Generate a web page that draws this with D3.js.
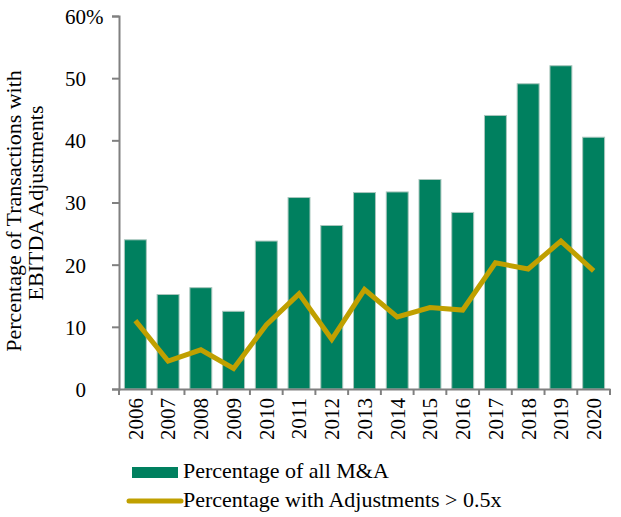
<!DOCTYPE html>
<html><head><meta charset="utf-8">
<script src="https://cdn.jsdelivr.net/npm/d3@7"></script>
<style>body{margin:0;background:#fff}svg{display:block}text{font-family:"Liberation Serif","Times New Roman",serif;fill:#000}</style>
</head><body><svg id="c" width="621" height="517"></svg>
<script>
const years = ["2006","2007","2008","2009","2010","2011","2012","2013","2014","2015","2016","2017","2018","2019","2020"];
const allMA = [24.0,15.2,16.3,12.5,23.8,30.8,26.3,31.6,31.7,33.7,28.4,44.0,49.1,52.0,40.5];
const adjusted = [11.0,4.5,6.3,3.3,10.3,15.3,8.0,16.0,11.6,13.1,12.7,20.3,19.3,23.8,19.0];
const yTicks = [0,10,20,30,40,50,60];
const seriesNames = ["Percentage of all M&A","Percentage with Adjustments > 0.5x"];
const yTitle = ["Percentage of Transactions with","EBITDA Adjustments"];

const svg = d3.select("#c");
const L=119, R=610, T=16, B=389;
const x = d3.scaleBand().domain(years).range([L,R]).paddingInner(0.33).paddingOuter(0.165);
const y = d3.scaleLinear().domain([0,60]).range([B,T]);
const barColor="#00805f", lineColor="#c0a000", axisColor="#808080";
const serif='"Liberation Serif","Times New Roman",serif';

// bars
svg.append("g").selectAll("rect").data(years).join("rect")
  .attr("x",d=>x(d)).attr("width",x.bandwidth())
  .attr("y",(d,i)=>y(allMA[i])).attr("height",(d,i)=>y(0)-y(allMA[i]))
  .attr("fill",barColor).attr("stroke","#a9c6bd").attr("stroke-width",1);

// line
const line = d3.line().x((d,i)=>x(years[i])+x.bandwidth()/2).y(d=>y(d));
svg.append("path").datum(adjusted).attr("d",line).attr("fill","none")
  .attr("stroke",lineColor).attr("stroke-width",5).attr("stroke-linejoin","miter");

// y axis
const ya = svg.append("g").attr("transform",`translate(${L},0)`)
  .call(d3.axisLeft(y).tickValues(yTicks).tickSize(7).tickPadding(0).tickFormat(d3.format("d")));
ya.select(".domain").attr("stroke",axisColor).attr("stroke-width",2);
ya.selectAll(".tick line").attr("stroke",axisColor).attr("stroke-width",2);
ya.selectAll(".tick text").attr("x",-33).attr("dy","0.35em").style("font-size","21px")
  .style("font-family",serif).attr("fill","#000");
ya.selectAll(".tick").filter(d=>d===60).append("text").text("%")
  .attr("x",-33).attr("text-anchor","start").attr("dy","0.35em").attr("fill","#000")
  .style("font-size","21px").style("font-family",serif);

// x axis
const xa = svg.append("g").attr("transform",`translate(0,${B})`)
  .call(d3.axisBottom(x).tickSize(0).tickPadding(0));
xa.select(".domain").attr("stroke",axisColor).attr("stroke-width",2);
xa.selectAll(".tick text").attr("transform","rotate(-90)").attr("text-anchor","end")
  .attr("x",-9).attr("y",0).attr("dy","0.35em").attr("fill","#000")
  .style("font-size","21px").style("font-family",serif);
const bounds = years.map(d=>x(d)-x.step()*x.paddingInner()/2).concat([R]);
xa.selectAll(".bt").data(bounds).join("line").attr("class","bt")
  .attr("x1",d=>d).attr("x2",d=>d).attr("y1",0).attr("y2",6)
  .attr("stroke",axisColor).attr("stroke-width",2);

// y title
const yt = svg.append("text").attr("transform","translate(21,0) rotate(-90)")
  .attr("text-anchor","middle").style("font-size","22px");
yt.append("tspan").attr("x",-211).attr("y",0).text(yTitle[0]);
yt.append("tspan").attr("x",-203).attr("y",21.5).text(yTitle[1]);

// legend
svg.append("rect").attr("x",132).attr("y",467).attr("width",46).attr("height",11).attr("fill",barColor);
svg.append("text").attr("x",183).attr("y",478).style("font-size","22px").text(seriesNames[0]);
svg.append("line").attr("x1",129).attr("x2",181).attr("y1",501).attr("y2",501)
  .attr("stroke",lineColor).attr("stroke-width",5).attr("stroke-linecap","round");
svg.append("text").attr("x",183).attr("y",507).style("font-size","22px").text(seriesNames[1]);
</script></body></html>
